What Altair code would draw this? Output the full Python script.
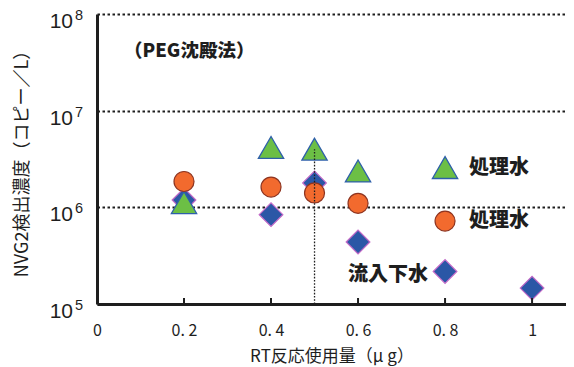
import altair as alt
import pandas as pd

# ---- data ----
tri_x = [0.2, 0.4, 0.5, 0.6, 0.8]
tri_y = [1.12e6, 4.16e6, 4.0e6, 2.38e6, 2.58e6]
cir_x = [0.2, 0.4, 0.5, 0.6, 0.8]
cir_y = [1.85e6, 1.62e6, 1.41e6, 1.10e6, 7.2e5]
dia_x = [0.2, 0.4, 0.5, 0.6, 0.8, 1.0]
dia_y = [1.19e6, 8.4e5, 1.79e6, 4.38e5, 2.17e5, 1.46e5]

x_ticks = [0, 0.2, 0.4, 0.6, 0.8, 1.0]
x_inner_ticks = [0.2, 0.4, 0.6, 0.8, 1.0]
y_ticks = [1e5, 1e6, 1e7, 1e8]
y_base = ["10", "10", "10", "10"]
y_exps = ["5", "6", "7", "8"]

ref_x = [0.5]
ref_y = [1e5]
ref_y2 = [4.0e6]

ann_text = ["処理水", "処理水", "流入下水", "（PEG沈殿法）"]
ann_x = [0.855, 0.855, 0.577, 0.062]
ann_y = [2.58e6, 7.2e5, 2.0e5, 4.14e7]
ann_size = [20, 20, 20, 18.5]

x_title = "RT反応使用量（μ g）"
y_title = "NVG2検出濃度（コピー／L）"

W, H = 469, 290
JP = "Noto Sans CJK JP"
INK = "#1e1e1e"

x_scale = alt.Scale(domain=[0, 1.078], nice=False)
y_scale = alt.Scale(type="log", domain=[1e5, 1e8], nice=False)

x_enc = alt.X(
    "x:Q",
    scale=x_scale,
    axis=alt.Axis(
        values=x_ticks,
        labelExpr="datum.value == 0 ? '0' : (datum.value == 1 ? '1' : replace(format(datum.value, '.1f'), '.', '. '))",
        labelFlush=False,
        grid=False,
        ticks=False,
        domain=True,
        domainWidth=3,
        domainColor=INK,
        labelFont=JP,
        labelFontSize=16,
        labelColor=INK,
        labelPadding=18,
        title=x_title,
        titleFont=JP,
        titleFontSize=17,
        titleFontWeight="normal",
        titleColor=INK,
        titleY=57,
        titleBaseline="alphabetic",
    ),
)
y_enc = alt.Y(
    "y:Q",
    scale=y_scale,
    axis=alt.Axis(
        values=y_ticks,
        labels=False,
        ticks=False,
        domain=True,
        domainWidth=3,
        domainColor=INK,
        grid=True,
        gridDash=[2.5, 2.5],
        gridWidth=2,
        gridColor=INK,
        gridOpacity=1,
        title=y_title,
        titleFont=JP,
        titleFontSize=18,
        titleFontWeight="normal",
        titleColor=INK,
        titleX=-75,
        titleY=H / 2,
        titleAngle=-90,
        titleAlign="center",
        titleBaseline="middle",
    ),
)

tri_df = pd.DataFrame({"x": tri_x, "y": tri_y})
cir_df = pd.DataFrame({"x": cir_x, "y": cir_y})
dia_df = pd.DataFrame({"x": dia_x, "y": dia_y})
ref_df = pd.DataFrame({"x": ref_x, "y": ref_y, "y2": ref_y2})
xt_df = pd.DataFrame({"x": x_inner_ticks})
yl_df = pd.DataFrame({"y": y_ticks, "b": y_base, "e": y_exps})
ann_df = pd.DataFrame({"x": ann_x, "y": ann_y, "t": ann_text, "s": ann_size})

diamonds = alt.Chart(dia_df).mark_point(
    shape="diamond", filled=True, fill="#2B57A6", stroke="#C46AC8",
    strokeWidth=1.2, size=560, opacity=1
).encode(x=x_enc, y=y_enc)

triangles = alt.Chart(tri_df).mark_point(
    shape="triangle-up", filled=True, fill="#6CBF45", stroke="#2E5FAA",
    strokeWidth=1.3, size=640, opacity=1
).encode(x=x_enc, y=y_enc)

circles = alt.Chart(cir_df).mark_point(
    shape="circle", filled=True, fill="#F26A2E", stroke="#8E3420",
    strokeWidth=1.2, size=400, opacity=1
).encode(x=x_enc, y=y_enc)

vrule = alt.Chart(ref_df).mark_rule(
    color=INK, strokeWidth=1.3, strokeDash=[1.6, 1.6]
).encode(x=x_enc, y=y_enc, y2=alt.Y2("y2:Q"))

xticks_in = alt.Chart(xt_df).mark_rule(color=INK, strokeWidth=2).encode(
    x=x_enc, y=alt.value(H), y2=alt.value(H - 6)
)

ylab_base = alt.Chart(yl_df).mark_text(
    align="right", baseline="alphabetic", dy=14, font="Liberation Sans",
    fontSize=21, color=INK
).encode(x=alt.value(-24), y=y_enc, text="b:N")

ylab_exp = alt.Chart(yl_df).mark_text(
    align="left", baseline="alphabetic", dy=6, font="Liberation Sans",
    fontSize=14.5, color=INK
).encode(x=alt.value(-22), y=y_enc, text="e:N")

ann = alt.Chart(ann_df).mark_text(
    align="left", baseline="middle", font=JP, fontWeight=900, color=INK
).encode(
    x=x_enc, y=y_enc, text="t:N",
    size=alt.Size("s:Q", scale=None, legend=None),
)

chart = alt.layer(
    diamonds, triangles, circles, vrule, xticks_in, ylab_base, ylab_exp, ann
).properties(
    width=W,
    height=H,
    autosize=alt.AutoSizeParams(type="none"),
    padding={"left": 89, "top": 6, "right": 0, "bottom": 63},
    background="white",
).configure_view(stroke=None)

chart.save("out.html", embed_options={"renderer": "svg", "actions": False})
